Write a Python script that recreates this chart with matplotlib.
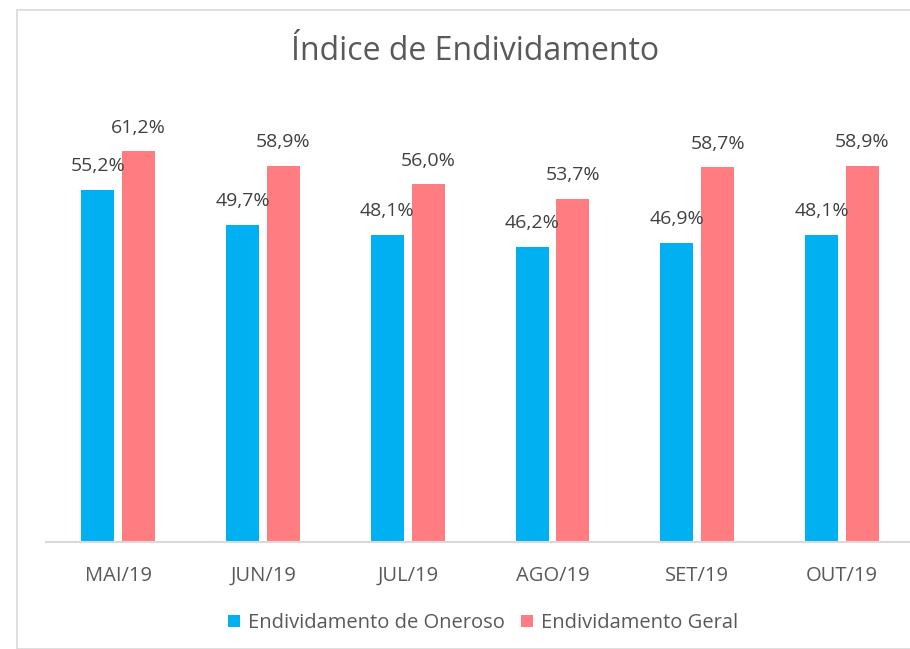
import numpy as np
import matplotlib.pyplot as plt
from matplotlib.patches import Rectangle

months = ["MAI/19", "JUN/19", "JUL/19", "AGO/19", "SET/19", "OUT/19"]
oneroso = [55.2, 49.7, 48.1, 46.2, 46.9, 48.1]
geral = [61.2, 58.9, 56.0, 53.7, 58.7, 58.9]
series_names = ["Endividamento de Oneroso", "Endividamento Geral"]

plt.rcParams['font.family'] = ['Open Sans', 'DejaVu Sans']
txt = "#595959"

fig = plt.figure(figsize=(9.1, 6.49), dpi=100)
fig.patches.append(Rectangle((17/910, 0), 1, 1 - 10/649, transform=fig.transFigure,
                             fill=False, edgecolor="#d9d9d9", linewidth=1.2))
ax = fig.add_axes([46/910, 1 - 542/649, 864/910, 447/649])

x = np.arange(len(months))
w = 0.228
off = 0.141
b1 = ax.bar(x - off, oneroso, w, color="#00B0F0", label=series_names[0])
b2 = ax.bar(x + off, geral, w, color="#FF7C80", label=series_names[1])

for bars, vals in ((b1, oneroso), (b2, geral)):
    for r, v in zip(bars, vals):
        ax.annotate(f"{v:.1f}%".replace(".", ","), (r.get_x() + r.get_width()/2, v),
                    xytext=(0, 17), textcoords="offset points", ha="center", va="center",
                    fontsize=14, color="#404040")

ax.set_ylim(0, 70)
ax.set_xlim(-0.5, 5.47)
ax.set_xticks(x)
ax.set_xticklabels(months, fontsize=14.5, color=txt)
ax.tick_params(axis="x", length=0, pad=17)
ax.set_yticks([])
for s in ["top", "right", "left"]:
    ax.spines[s].set_visible(False)
ax.spines["bottom"].set_color("#d9d9d9")
ax.spines["bottom"].set_linewidth(1.5)

fig.text(475/910, 1 - 52/649, "Índice de Endividamento", ha="center", va="center",
         fontsize=23, color=txt)

leg = fig.legend(handles=[b1, b2], loc="center", bbox_to_anchor=(483/910, 1 - 623/649),
                 ncol=2, frameon=False, fontsize=14.5, handlelength=0.6, handleheight=0.6,
                 columnspacing=0.8, handletextpad=0.4)
for t in leg.get_texts():
    t.set_color(txt)

fig.savefig("out.png", dpi=100)
